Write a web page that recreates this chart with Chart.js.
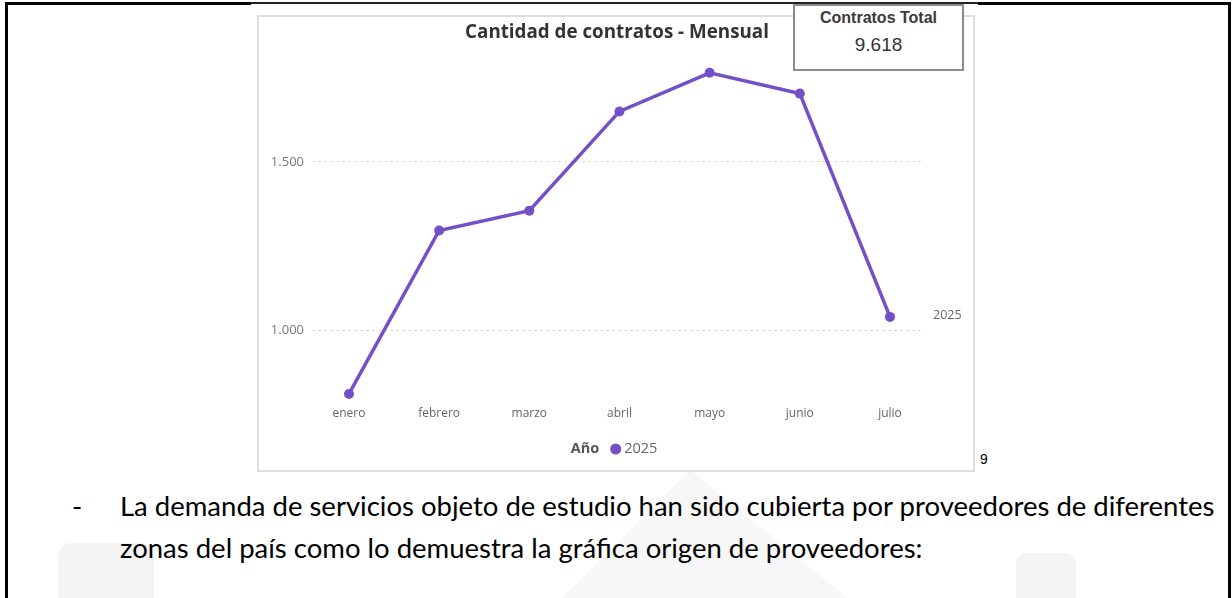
<!DOCTYPE html>
<html>
<head>
<meta charset="utf-8">
<script src="https://cdn.jsdelivr.net/npm/chart.js@4"></script>
<style>
  html, body { margin:0; padding:0; background:#fff; }
  #page { position:relative; width:1232px; height:598px; overflow:hidden; background:#fff; }
  .abs { position:absolute; }
  .wm { position:absolute; background:#f4f4f4; }
  #frame { position:absolute; left:257px; top:15px; width:714px; height:453px; border:2px solid #dedede; background:#fff; }
  #chartWrap { position:absolute; left:258px; top:16px; width:715px; height:454px; }
  #kpi { position:absolute; left:793px; top:4px; width:167px; height:63px; border:2px solid #8c8c8c; background:#fff;
         font-family:"Liberation Sans", Arial, sans-serif; text-align:center; color:#333; }
  #kpiLabel { position:absolute; left:0; right:0; top:3px; font-size:14px; font-weight:bold; color:#3a3a3a; white-space:nowrap; }
  #kpiValue { position:absolute; left:0; right:0; top:28px; font-size:19px; color:#333; }
  .body { position:absolute; font-family:Lato, "Open Sans", sans-serif; color:#000; white-space:nowrap; }
</style>
</head>
<body>
<div id="page">
  <!-- faint watermark shapes -->
  <div class="wm" style="left:58px; top:543px; width:96px; height:60px; border-radius:14px 14px 0 0;"></div>
  <div class="wm" style="left:560px; top:470px; width:290px; height:130px; clip-path:polygon(45% 0, 100% 100%, 0 100%); background:#f7f7f7;"></div>
  <div class="wm" style="left:1016px; top:553px; width:60px; height:50px; border-radius:10px 10px 0 0;"></div>

  <!-- page border lines -->
  <div class="abs" style="left:5px; top:2px; width:246px; height:3px; background:#000;"></div>
  <div class="abs" style="left:250px; top:2px; width:730px; height:2px; background:#222;"></div>
  <div class="abs" style="left:978px; top:2px; width:253px; height:3px; background:#000;"></div>
  <div class="abs" style="left:5px; top:2px; width:3px; height:600px; background:#000;"></div>
  <div class="abs" style="left:1228px; top:2px; width:3px; height:600px; background:#000;"></div>

  <div id="frame"></div>
  <div id="chartWrap"><canvas id="c" width="715" height="454"></canvas></div>

  <div id="kpi"><div id="kpiLabel"></div><div id="kpiValue"></div></div>

  <div class="abs" id="pageNum" style="left:980px; top:451px; font-family:'Liberation Sans', Arial, sans-serif; font-size:14px; color:#000;"></div>

  <div class="body" id="dash" style="left:72px; top:489px;">-</div>
  <div class="body" id="line1" style="left:120px; top:489px;"></div>
  <div class="body" id="line2" style="left:120px; top:531px;"></div>
</div>

<script>
// ---- data ----
const categories = ['enero', 'febrero', 'marzo', 'abril', 'mayo', 'junio', 'julio'];
const series2025 = [810, 1296, 1355, 1650, 1765, 1703, 1039];
const seriesName = '2025';
const legendTitle = 'Año';
const yTickValues = [1000, 1500];
const yTickLabels = ['1.000', '1.500'];
const chartTitle = 'Cantidad de contratos - Mensual';
const kpiLabel = 'Contratos Total';
const kpiValue = '9.618';
const pageNumber = '9';
const bodyLines = [
  'La demanda de servicios objeto de estudio han sido cubierta por proveedores de diferentes',
  'zonas del país como lo demuestra la gráfica origen de proveedores:'
];

document.getElementById('kpiLabel').textContent = kpiLabel;
document.getElementById('kpiValue').textContent = kpiValue;
document.getElementById('pageNum').textContent = pageNumber;

const measureCtx = document.createElement('canvas').getContext('2d');
function fitSize(text, fontTpl, targetW) {
  measureCtx.font = fontTpl.replace('{s}', '20');
  return 20 * targetW / measureCtx.measureText(text).width;
}

// body text sized to match the reference width
(function(){
  const size = fitSize(bodyLines[0], '{s}px Lato', 1095);
  ['dash','line1','line2'].forEach(id => {
    document.getElementById(id).style.fontSize = size.toFixed(2) + 'px';
  });
  document.getElementById('line1').textContent = bodyLines[0];
  document.getElementById('line2').textContent = bodyLines[1];
  const ks = fitSize(kpiLabel, 'bold {s}px "Liberation Sans"', 117);
  document.getElementById('kpiLabel').style.fontSize = ks.toFixed(2) + 'px';
})();

const purple = '#7450C8';
const titleSize = fitSize(chartTitle, 'bold {s}px "Open Sans"', 304);

const titlePlugin = {
  id: 'customTitle',
  afterDraw(chart) {
    const ctx = chart.ctx;
    ctx.save();
    ctx.font = 'bold ' + titleSize.toFixed(2) + 'px "Open Sans", sans-serif';
    ctx.fillStyle = '#333';
    ctx.textAlign = 'center';
    ctx.textBaseline = 'middle';
    ctx.fillText(chartTitle, 359, 17);
    ctx.restore();
  }
};

const endLabelPlugin = {
  id: 'endLabel',
  afterDatasetsDraw(chart) {
    const ctx = chart.ctx;
    const meta = chart.getDatasetMeta(0);
    const last = meta.data[meta.data.length - 1];
    ctx.save();
    ctx.font = '12.5px "Open Sans", sans-serif';
    ctx.fillStyle = '#666';
    ctx.textAlign = 'left';
    ctx.textBaseline = 'middle';
    ctx.fillText(chart.data.datasets[0].label, chart.chartArea.right + 9, last.y - 1);
    ctx.restore();
  }
};

const legendPlugin = {
  id: 'customLegend',
  afterDraw(chart) {
    const ctx = chart.ctx;
    const y = 433;
    ctx.save();
    ctx.textBaseline = 'middle';
    ctx.font = 'bold 14.5px "Open Sans", sans-serif';
    const wA = ctx.measureText(legendTitle).width;
    ctx.font = '14.5px "Open Sans", sans-serif';
    const w2 = ctx.measureText(chart.data.datasets[0].label).width;
    const total = wA + 11 + 11 + 3 + w2;
    let x = 356 - total / 2;
    ctx.font = 'bold 14.5px "Open Sans", sans-serif';
    ctx.fillStyle = '#555';
    ctx.fillText(legendTitle, x, y);
    x += wA + 11;
    ctx.beginPath();
    ctx.arc(x + 5.5, y, 5.5, 0, Math.PI * 2);
    ctx.fillStyle = chart.data.datasets[0].borderColor;
    ctx.fill();
    x += 14;
    ctx.font = '14.5px "Open Sans", sans-serif';
    ctx.fillStyle = '#666';
    ctx.fillText(chart.data.datasets[0].label, x, y);
    ctx.restore();
  }
};

new Chart(document.getElementById('c'), {
  type: 'line',
  data: {
    datasets: [{
      label: seriesName,
      data: series2025.map((v, i) => ({ x: i, y: v })),
      borderColor: purple,
      backgroundColor: purple,
      borderWidth: 3.5,
      pointRadius: 5,
      pointHoverRadius: 5,
      pointBackgroundColor: purple,
      pointBorderWidth: 0,
      tension: 0
    }]
  },
  options: {
    responsive: false,
    animation: false,
    layout: { padding: { left: 0, right: 49, top: 45, bottom: 42 } },
    plugins: {
      legend: { display: false },
      tooltip: { enabled: false },
      title: { display: false }
    },
    scales: {
      x: {
        type: 'linear',
        min: -0.399,
        max: 6.377,
        afterBuildTicks: s => { s.ticks = categories.map((_, i) => ({ value: i })); },
        afterFit: s => { s.height = 24; },
        grid: { display: false },
        border: { display: false },
        ticks: {
          padding: -6,
          color: '#666',
          font: { family: '"Open Sans", sans-serif', size: 12 },
          callback: v => categories[v],
          maxRotation: 0,
          autoSkip: false
        }
      },
      y: {
        min: 780,
        max: 1800,
        afterBuildTicks: s => { s.ticks = yTickValues.map(v => ({ value: v })); },
        afterFit: s => { s.width = 55; },
        border: { display: false, dash: [1.5, 4.5] },
        grid: { color: '#bdbdbd', lineWidth: 1, drawTicks: false },
        ticks: {
          padding: 9,
          color: '#777',
          font: { family: '"Open Sans", sans-serif', size: 13 },
          callback: v => yTickLabels[yTickValues.indexOf(v)]
        }
      }
    }
  },
  plugins: [titlePlugin, endLabelPlugin, legendPlugin]
});
</script>
</body>
</html>
